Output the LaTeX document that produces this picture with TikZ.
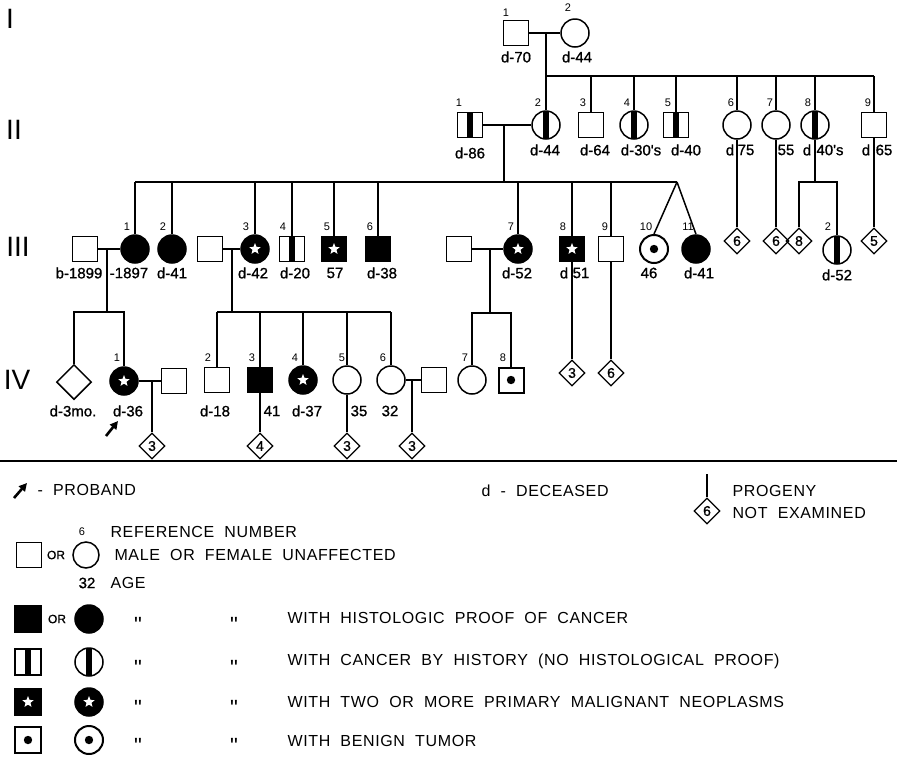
\documentclass[tikz,border=0pt]{standalone}
\usepackage{fontspec}
\setmainfont{Liberation Sans}
\newfontfamily\legfont{Liberation Sans}[LetterSpace=4,WordSpace=2]
\newfontfamily\agefont{Liberation Sans}[FakeBold=1]
\newfontfamily\dittofont{Liberation Sans}[Ligatures=TeXOff]
\usetikzlibrary{shapes.geometric,arrows.meta}

\tikzset{
  kin/.style={line width=1.5pt},
  male/.style={draw,rectangle,minimum size=25pt,inner sep=0pt,line width=1.5pt},
  female/.style={draw,circle,minimum size=28pt,inner sep=0pt,line width=1.5pt},
  hist/.style={fill=black},
  byhist/.style={path picture={\fill[black] ([xshift=-3.3pt]path picture bounding box.north) rectangle ([xshift=3.3pt]path picture bounding box.south);}},
  multi/.style={fill=black,path picture={\node[star,star points=5,star point ratio=2.3,fill=white,draw=none,inner sep=0pt,minimum size=12pt] at (path picture bounding box.center) {};}},
  benign/.style={line width=2pt,path picture={\fill[black] (path picture bounding box.center) circle (4.2pt);}},
  prog/.style={draw,diamond,minimum size=26pt,inner sep=0pt,line width=1.3pt,font=\agefont\fontsize{14}{14}\selectfont},
  refno/.style={font=\fontsize{11}{11}\selectfont},
  age/.style={font=\agefont\fontsize{15}{15}\selectfont},
  gen/.style={font=\fontsize{28}{28}\selectfont},
  legtext/.style={anchor=west,font=\legfont\fontsize{16}{16}\selectfont},
  ditto/.style={anchor=base,inner sep=0pt,font=\dittofont\fontsize{22}{22}\selectfont},
  proarrow/.style={-{Triangle[length=8pt,width=8pt]},line width=2.6pt}
}

\begin{document}
\begin{tikzpicture}[x=1pt,y=-1pt]
\useasboundingbox (0,0) rectangle (897,756);

% generation numbers
\node[gen] (gI) at (10,19) {I};
\node[gen] (gII) at (14,130) {II};
\node[gen] (gIII) at (18,247) {III};
\node[gen] (gIV) at (17,380) {IV};

% generation I
\node[male] (I1) at (516,33) {};
\node[female] (I2) at (575,33) {};
\node[refno] at (506,13) {1};
\node[refno] at (568,8) {2};
\node[age] at (516,57) {d-70};
\node[age] at (577,57) {d-44};
\coordinate (mI) at (546,33);
\coordinate (sI) at (546,76);

% generation II
\node[male,byhist] (II1) at (470,125) {};
\node[female,byhist] (II2) at (546,125) {};
\node[male] (II3) at (591,125) {};
\node[female,byhist] (II4) at (634,125) {};
\node[male,byhist] (II5) at (676,125) {};
\node[female] (II6) at (737,125) {};
\node[female] (II7) at (776,125) {};
\node[female,byhist] (II8) at (815,125) {};
\node[male] (II9) at (874,125) {};
\foreach \n/\x in {1/459,2/538,3/583,4/627,5/668,6/731,7/770,8/808,9/868}
  \node[refno] at (\x,103) {\n};
\node[age] at (470,153) {d-86};
\node[age] at (545,150) {d-44};
\node[age] at (595,150) {d-64};
\node[age] at (641,150) {d-30's};
\node[age] at (686,150) {d-40};
\node[age] at (730,150) {d};
\node[age] at (746,150) {75};
\node[age] at (786,150) {55};
\node[age] at (807,150) {d};
\node[age] at (830,150) {40's};
\node[age] at (866,150) {d};
\node[age] at (884,150) {65};

\draw[kin] (I1) -- (I2);
\draw[kin] (mI) -- (II2);
\draw[kin] (sI) -- (sI -| II9);
\foreach \n in {II3,II4,II5,II6,II7,II8,II9}
  \draw[kin] (\n |- sI) -- (\n);

% generation III
\coordinate (mII) at (504,125);
\coordinate (sII) at (504,182);
\coordinate (tw) at (677,182);
\node[male] (III1h) at (85,249) {};
\node[female,hist] (III1) at (135,249) {};
\node[female,hist] (III2) at (172,249) {};
\node[male] (III3h) at (210,249) {};
\node[female,multi] (III3) at (255,249) {};
\node[male,byhist] (III4) at (292,249) {};
\node[male,multi] (III5) at (334,249) {};
\node[male,hist] (III6) at (378,249) {};
\node[male] (III7h) at (459,249) {};
\node[female,multi] (III7) at (518,249) {};
\node[male,multi] (III8) at (572,249) {};
\node[male] (III9) at (611,249) {};
\node[female,benign] (III10) at (654,249) {};
\node[female,hist] (III11) at (696,249) {};
\node[prog] (p6a) at (737,241) {6};
\node[prog] (p6b) at (776,241) {6};
\node[prog] (p8) at (799,241) {8};
\node[female,byhist] (IIIr2) at (837,250) {};
\node[prog] (p5) at (874,241) {5};
\foreach \n/\x in {1/127,2/163,3/246,4/283,5/327,6/370,7/511,8/563,9/605,10/646,11/688}
  \node[refno] at (\x,227) {\n};
\node[refno] at (828,227) {2};
\node[age] at (79,273) {b-1899};
\node[age] at (129,273) {-1897};
\node[age] at (172,273) {d-41};
\node[age] at (253,273) {d-42};
\node[age] at (295,273) {d-20};
\node[age] at (335,273) {57};
\node[age] at (382,273) {d-38};
\node[age] at (517,273) {d-52};
\node[age] at (564,273) {d};
\node[age] at (581,273) {51};
\node[age] at (649,273) {46};
\node[age] at (699,273) {d-41};
\node[age] at (837,275) {d-52};

\draw[kin] (II1) -- (II2);
\draw[kin] (mII) -- (sII);
\draw[kin] (sII -| III1) -- (tw);
\foreach \n in {III1,III2,III3,III4,III5,III6,III7,III8,III9}
  \draw[kin] (\n |- sII) -- (\n);
\draw[kin] (tw) -- (III10.north);
\draw[kin] (tw) -- (III11.north);
\draw[kin] (II6) -- (p6a);
\draw[kin] (II7) -- (p6b);
\draw[kin] (II9) -- (p5);
\coordinate (sII8) at (815,182);
\draw[kin] (II8) -- (sII8);
\draw[kin] (p8) |- (sII8) -| (IIIr2);

% generation IV
\coordinate (mIII1) at (107,249);
\coordinate (sIII1) at (107,312);
\coordinate (mIII3) at (232,249);
\coordinate (sIII3) at (232,312);
\coordinate (mIII7) at (490,249);
\coordinate (sIII7) at (490,313);
\node[draw,diamond,minimum size=35pt,inner sep=0pt,line width=1.5pt] (IVd) at (74,382) {};
\node[female,multi] (IV1) at (124,381) {};
\node[male] (IV1h) at (174,381) {};
\node[male] (IV2) at (217,380) {};
\node[male,hist] (IV3) at (260,380) {};
\node[female,multi] (IV4) at (303,380) {};
\node[female] (IV5) at (347,380) {};
\node[female] (IV6) at (391,380) {};
\node[male] (IV6h) at (434,380) {};
\node[female] (IV7) at (472,380) {};
\node[male,benign] (IV8) at (511,380) {};
\node[prog] (q1) at (152,446) {3};
\node[prog] (q2) at (260,446) {4};
\node[prog] (q3) at (347,446) {3};
\node[prog] (q4) at (412,446) {3};
\node[prog] (q5) at (572,373) {3};
\node[prog] (q6) at (611,373) {6};
\foreach \n/\x in {1/117,2/208,3/252,4/295,5/342,6/383,7/465,8/503}
  \node[refno] at (\x,358) {\n};
\node[age] at (73,411) {d-3mo.};
\node[age] at (128,411) {d-36};
\node[age] at (215,411) {d-18};
\node[age] at (272,411) {41};
\node[age] at (307,411) {d-37};
\node[age] at (359,411) {35};
\node[age] at (390,411) {32};

\draw[kin] (III1h) -- (III1);
\draw[kin] (mIII1) -- (sIII1);
\draw[kin] (IVd) |- (sIII1) -| (IV1);
\draw[kin] (III3h) -- (III3);
\draw[kin] (mIII3) -- (sIII3);
\draw[kin] (sIII3 -| IV2) -- (sIII3 -| IV6);
\foreach \n in {IV2,IV3,IV4,IV5,IV6}
  \draw[kin] (\n |- sIII3) -- (\n);
\draw[kin] (III7h) -- (III7);
\draw[kin] (mIII7) -- (sIII7);
\draw[kin] (IV7) |- (sIII7) -| (IV8);
\draw[kin] (III8) -- (q5);
\draw[kin] (III9) -- (q6);
\coordinate (mIV1) at (152,381);
\coordinate (mIV6) at (412,380);
\draw[kin] (IV1) -- (IV1h);
\draw[kin] (mIV1) -- (q1);
\draw[kin] (IV3) -- (q2);
\draw[kin] (IV5) -- (q3);
\draw[kin] (IV6) -- (IV6h);
\draw[kin] (mIV6) -- (q4);

% proband
\coordinate (pa1) at (106,436);
\coordinate (pa2) at (118,421);
\draw[proarrow] (pa1) -- (pa2);

% legend
\draw[line width=2.2pt] (0,461) -- (897,461);
\coordinate (lpa1) at (14,498);
\coordinate (lpa2) at (27,483);
\draw[proarrow] (lpa1) -- (lpa2);
\node[legtext] at (34,490) {- PROBAND};
\node[legtext] at (478,491) {d - DECEASED};
\coordinate (lpt) at (707,474);
\node[prog] (lp6) at (707,511) {6};
\draw[kin] (lpt) -- (lp6);
\node[legtext] at (729,491) {PROGENY};
\node[legtext] at (729,513) {NOT EXAMINED};

\node[refno] at (82,532) {6};
\node[legtext] at (107,532) {REFERENCE NUMBER};
\node[male] (lm) at (29,555) {};
\node[font=\agefont\fontsize{12}{12}\selectfont] at (56,555) {OR};
\node[female,minimum size=26pt] (lf) at (86,555) {};
\node[legtext] at (111,555) {MALE OR FEMALE UNAFFECTED};
\node[age] at (87,583) {32};
\node[legtext] at (107,583) {AGE};

\node[male,hist,minimum size=26pt] (lm1) at (28,619) {};
\node[font=\agefont\fontsize{12}{12}\selectfont] at (57,619) {OR};
\node[female,hist] (lf1) at (89,619) {};
\node[male,byhist,minimum size=26pt] (lm2) at (28,662) {};
\node[female,byhist] (lf2) at (89,662) {};
\node[male,multi,minimum size=26pt] (lm3) at (28,702) {};
\node[female,multi] (lf3) at (89,702) {};
\node[male,benign,minimum size=26pt] (lm4) at (28,740) {};
\node[female,benign] (lf4) at (89,740) {};
\foreach \y in {619,662,702,740}{
  \node[ditto] at (138,\y+13) {"};
  \node[ditto] at (234,\y+13) {"};
}
\node[legtext] at (284,618) {WITH HISTOLOGIC PROOF OF CANCER};
\node[legtext] at (284,661) {WITH CANCER BY HISTORY (NO HISTOLOGICAL PROOF)};
\node[legtext] at (284,702) {WITH TWO OR MORE PRIMARY MALIGNANT NEOPLASMS};
\node[legtext] at (284,741) {WITH BENIGN TUMOR};
\end{tikzpicture}
\end{document}
